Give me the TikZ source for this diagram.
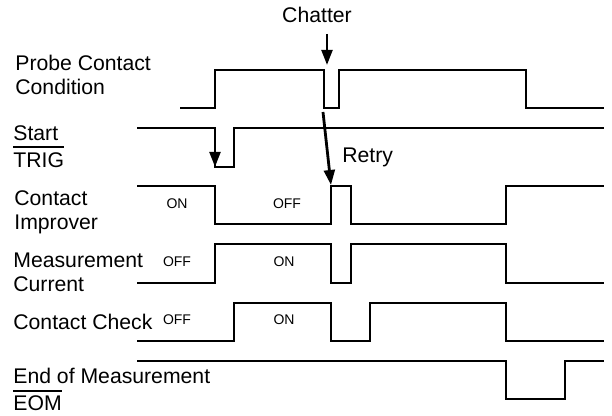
\documentclass[tikz,border=0pt]{standalone}
\usepackage{fontspec}
\setmainfont{Liberation Sans}
\usepackage{tikz}
\usetikzlibrary{arrows.meta, positioning}
\newcommand{\ovbar}[1]{\setbox0\hbox{#1}\rlap{\rule[9.5pt]{\wd0}{1pt}}\box0}
\tikzset{
  sig/.style={line width=1.1pt, line join=miter},
  sigarrow/.style={-{Triangle[length=7.5pt,width=5.4pt]}, line width=1.4pt},
  siglabel/.style={anchor=north west, inner sep=0pt, align=left,
    font=\fontsize{10.6}{12}\selectfont},
  state/.style={inner sep=0pt, font=\fontsize{7}{8}\selectfont},
  note/.style={inner sep=0pt, font=\fontsize{10.6}{12}\selectfont}
}

\begin{document}
\begin{tikzpicture}[x=0.5pt, y=-0.5pt]
  \useasboundingbox (0,0) rectangle (612,416);

  % Signal names
  \node[siglabel] (probe) at (15,55) {Probe Contact\\Condition};
  \node[siglabel] (trig) at (13,125) {Start\\[1.5pt]\ovbar{TRIG}};
  \node[siglabel] (improver) at (14,190) {Contact\\Improver};
  \node[siglabel] (current) at (13,253) {Measurement\\Current};
  \node[siglabel] (check) at (13,314) {Contact Check};
  \node[siglabel] (eom) at (13,368) {End of Measurement\\[1.5pt]\ovbar{EOM}};

  % Draw waveforms
  \draw[sig] (180,108) -| (215,70) -| (324,108) -| (339,70) -| (526,108) -- (604,108);
  \draw[sig] (137,128) -| (215,167) -| (234,128) -- (604,128);
  \draw[sig] (137,186) -| (215,224) -| (331,186) -| (351,224) -| (506,186) -- (604,186);
  \draw[sig] (137,283) -| (215,244) -| (331,283) -| (351,244) -| (506,283) -- (604,283);
  \draw[sig] (137,341) -| (234,303) -| (331,341) -| (370,303) -| (506,341) -- (604,341);
  \draw[sig] (137,361) -| (506,399) -| (565,361) -- (604,361);

  % ON / OFF states
  \foreach \x/\y/\t [count=\i] in {177/204/ON, 287/204/OFF, 177/262/OFF,
      284/262/ON, 177/320/OFF, 284/320/ON}
    \node[state] (st\i) at (\x,\y) {\t};

  % Events
  \node[note, anchor=base] (chatter) at (317,23) {Chatter};
  \node[note, anchor=base west] (retry) at (342,163) {Retry};
  \coordinate (chatter top) at (327,34);
  \coordinate (chatter tip) at (327,65);
  \coordinate (trig top) at (215,128);
  \coordinate (trig tip) at (215,167);
  \coordinate (retry top) at (323,112);
  \coordinate (retry tip) at (331,185);
  \draw[sigarrow] (chatter top) -- (chatter tip);
  \draw[sigarrow] (trig top) -- (trig tip);
  \draw[sigarrow] (retry top) -- (retry tip);
\end{tikzpicture}
\end{document}
